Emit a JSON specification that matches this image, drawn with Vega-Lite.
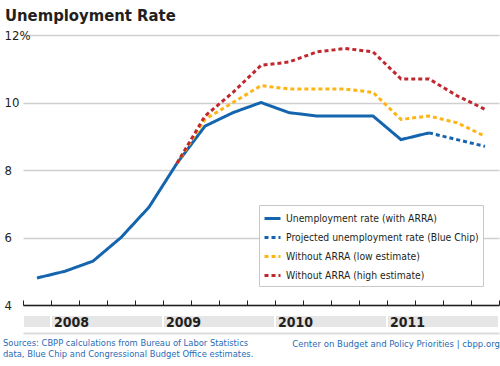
{
  "$schema": "https://vega.github.io/schema/vega-lite/v6.json",
  "padding": {"left": 3, "top": 7, "right": 0, "bottom": 0},
  "background": "white",
  "bounds": "flush",
  "spacing": 10,
  "title": {"text": "Unemployment Rate", "anchor": "start", "font": "DejaVu Sans Condensed", "fontSize": 16.5, "fontWeight": "bold", "color": "#231f20", "offset": 5, "dx": 2},
  "config": {"view": {"stroke": null}, "font": "DejaVu Sans Condensed"},
  "vconcat": [
    {
      "width": 476,
      "height": 270,
      "data": {"values": [
        {"t": 0, "period": "2007 Q4", "series": "Unemployment rate (with ARRA)", "rate": 4.8},
        {"t": 1, "period": "2008 Q1", "series": "Unemployment rate (with ARRA)", "rate": 5.0},
        {"t": 2, "period": "2008 Q2", "series": "Unemployment rate (with ARRA)", "rate": 5.3},
        {"t": 3, "period": "2008 Q3", "series": "Unemployment rate (with ARRA)", "rate": 6.0},
        {"t": 4, "period": "2008 Q4", "series": "Unemployment rate (with ARRA)", "rate": 6.9},
        {"t": 5, "period": "2009 Q1", "series": "Unemployment rate (with ARRA)", "rate": 8.2},
        {"t": 6, "period": "2009 Q2", "series": "Unemployment rate (with ARRA)", "rate": 9.3},
        {"t": 7, "period": "2009 Q3", "series": "Unemployment rate (with ARRA)", "rate": 9.7},
        {"t": 8, "period": "2009 Q4", "series": "Unemployment rate (with ARRA)", "rate": 10.0},
        {"t": 9, "period": "2010 Q1", "series": "Unemployment rate (with ARRA)", "rate": 9.7},
        {"t": 10, "period": "2010 Q2", "series": "Unemployment rate (with ARRA)", "rate": 9.6},
        {"t": 11, "period": "2010 Q3", "series": "Unemployment rate (with ARRA)", "rate": 9.6},
        {"t": 12, "period": "2010 Q4", "series": "Unemployment rate (with ARRA)", "rate": 9.6},
        {"t": 13, "period": "2011 Q1", "series": "Unemployment rate (with ARRA)", "rate": 8.9},
        {"t": 14, "period": "2011 Q2", "series": "Unemployment rate (with ARRA)", "rate": 9.1},
        {"t": 14, "period": "2011 Q2", "series": "Projected unemployment rate (Blue Chip)", "rate": 9.1},
        {"t": 15, "period": "2011 Q3", "series": "Projected unemployment rate (Blue Chip)", "rate": 8.9},
        {"t": 16, "period": "2011 Q4", "series": "Projected unemployment rate (Blue Chip)", "rate": 8.7},
        {"t": 5, "period": "2009 Q1", "series": "Without ARRA (low estimate)", "rate": 8.2},
        {"t": 6, "period": "2009 Q2", "series": "Without ARRA (low estimate)", "rate": 9.5},
        {"t": 7, "period": "2009 Q3", "series": "Without ARRA (low estimate)", "rate": 10.0},
        {"t": 8, "period": "2009 Q4", "series": "Without ARRA (low estimate)", "rate": 10.5},
        {"t": 9, "period": "2010 Q1", "series": "Without ARRA (low estimate)", "rate": 10.4},
        {"t": 10, "period": "2010 Q2", "series": "Without ARRA (low estimate)", "rate": 10.4},
        {"t": 11, "period": "2010 Q3", "series": "Without ARRA (low estimate)", "rate": 10.4},
        {"t": 12, "period": "2010 Q4", "series": "Without ARRA (low estimate)", "rate": 10.3},
        {"t": 13, "period": "2011 Q1", "series": "Without ARRA (low estimate)", "rate": 9.5},
        {"t": 14, "period": "2011 Q2", "series": "Without ARRA (low estimate)", "rate": 9.6},
        {"t": 15, "period": "2011 Q3", "series": "Without ARRA (low estimate)", "rate": 9.4},
        {"t": 16, "period": "2011 Q4", "series": "Without ARRA (low estimate)", "rate": 9.0},
        {"t": 5, "period": "2009 Q1", "series": "Without ARRA (high estimate)", "rate": 8.2},
        {"t": 6, "period": "2009 Q2", "series": "Without ARRA (high estimate)", "rate": 9.6},
        {"t": 7, "period": "2009 Q3", "series": "Without ARRA (high estimate)", "rate": 10.3},
        {"t": 8, "period": "2009 Q4", "series": "Without ARRA (high estimate)", "rate": 11.1},
        {"t": 9, "period": "2010 Q1", "series": "Without ARRA (high estimate)", "rate": 11.2},
        {"t": 10, "period": "2010 Q2", "series": "Without ARRA (high estimate)", "rate": 11.5},
        {"t": 11, "period": "2010 Q3", "series": "Without ARRA (high estimate)", "rate": 11.6},
        {"t": 12, "period": "2010 Q4", "series": "Without ARRA (high estimate)", "rate": 11.5},
        {"t": 13, "period": "2011 Q1", "series": "Without ARRA (high estimate)", "rate": 10.7},
        {"t": 14, "period": "2011 Q2", "series": "Without ARRA (high estimate)", "rate": 10.7},
        {"t": 15, "period": "2011 Q3", "series": "Without ARRA (high estimate)", "rate": 10.2},
        {"t": 16, "period": "2011 Q4", "series": "Without ARRA (high estimate)", "rate": 9.8}
      ]},
      "mark": {"type": "line", "strokeWidth": 3, "strokeCap": "butt"},
      "encoding": {
        "x": {"field": "t", "type": "quantitative",
              "scale": {"domain": [-0.5, 16.5], "nice": false, "zero": false},
              "axis": {"title": null, "values": [-0.5, 0.5, 1.5, 2.5, 3.5, 4.5, 5.5, 6.5, 7.5, 8.5, 9.5, 10.5, 11.5, 12.5, 13.5, 14.5, 15.5, 16.5],
                       "labels": false, "grid": false, "domainColor": "#231f20", "domainWidth": 1.5, "tickColor": "#231f20", "tickWidth": 1, "tickSize": -5}},
        "y": {"field": "rate", "type": "quantitative",
              "scale": {"domain": [4, 12], "nice": false, "zero": false},
              "axis": {"title": null, "values": [4, 6, 8, 10, 12], "domain": false, "ticks": false, "tickSize": 0,
                       "grid": true, "gridColor": "#cfcfcf", "gridWidth": 1.5,
                       "labelAlign": "left", "labelPadding": 19, "labelFontSize": 13, "labelColor": "#231f20",
                       "labelExpr": "datum.value == 12 ? '12%' : (datum.value < 10 ? '\u2007' + datum.label : datum.label)"}},
        "color": {"field": "series", "type": "nominal",
                  "scale": {"domain": ["Unemployment rate (with ARRA)", "Projected unemployment rate (Blue Chip)", "Without ARRA (low estimate)", "Without ARRA (high estimate)"],
                            "range": ["#1565ae", "#1565ae", "#fdb515", "#c0282f"]},
                  "legend": {"title": null, "orient": "none", "legendX": 236, "legendY": 170, "fillColor": "white", "strokeColor": "#c8c8c8",
                             "padding": 4, "symbolType": "stroke", "symbolSize": 256, "symbolStrokeWidth": 3, "labelFontSize": 10.3,
                             "labelColor": "#231f20", "labelLimit": 0, "rowPadding": 3, "labelOffset": 4}},
        "strokeDash": {"field": "series", "type": "nominal",
                       "scale": {"domain": ["Unemployment rate (with ARRA)", "Projected unemployment rate (Blue Chip)", "Without ARRA (low estimate)", "Without ARRA (high estimate)"],
                                 "range": [[1, 0], [4, 3], [4, 3], [4, 3]]}},
        "order": {"field": "t", "type": "quantitative"}
      }
    },
    {
      "width": 476,
      "height": 13,
      "data": {"values": [
        {"year": "", "start": -0.5, "end": 0.5},
        {"year": "2008", "start": 0.5, "end": 4.5},
        {"year": "2009", "start": 4.5, "end": 8.5},
        {"year": "2010", "start": 8.5, "end": 12.5},
        {"year": "2011", "start": 12.5, "end": 16.5}
      ]},
      "layer": [
        {"mark": {"type": "rect", "color": "#e6e6e6", "stroke": "white", "strokeWidth": 2},
         "encoding": {
           "x": {"field": "start", "type": "quantitative", "scale": {"domain": [-0.5, 16.5], "nice": false, "zero": false},
                 "axis": {"title": null, "labels": false, "ticks": false, "grid": false, "domainColor": "#dcdcdc", "domainWidth": 2, "offset": 5}},
           "x2": {"field": "end"}
         }},
        {"mark": {"type": "text", "align": "left", "baseline": "middle", "dx": 3, "dy": 1, "fontSize": 14, "fontWeight": "bold", "color": "#231f20"},
         "encoding": {
           "x": {"field": "start", "type": "quantitative"},
           "text": {"field": "year"}
         }}
      ]
    },
    {
      "width": 476,
      "height": 1,
      "data": {"values": [
        {"note": "Sources: CBPP calculations from Bureau of Labor Statistics\ndata, Blue Chip and Congressional Budget Office estimates.", "side": "left", "at": -0.5},
        {"note": "Center on Budget and Policy Priorities | cbpp.org", "side": "right", "at": 16.5}
      ]},
      "layer": [
        {"transform": [{"filter": "datum.side == 'left'"}],
         "mark": {"type": "text", "align": "left", "baseline": "top", "dx": -20, "fontSize": 9.3, "lineHeight": 11, "lineBreak": "\n", "color": "#1f6bb5"},
         "encoding": {
           "x": {"field": "at", "type": "quantitative", "scale": {"domain": [-0.5, 16.5], "nice": false, "zero": false}, "axis": null},
           "text": {"field": "note"}
         }},
        {"transform": [{"filter": "datum.side == 'right'"}],
         "mark": {"type": "text", "align": "right", "baseline": "top", "dx": 1, "fontSize": 9.5, "color": "#1f6bb5"},
         "encoding": {
           "x": {"field": "at", "type": "quantitative"},
           "text": {"field": "note"}
         }}
      ]
    }
  ]
}
